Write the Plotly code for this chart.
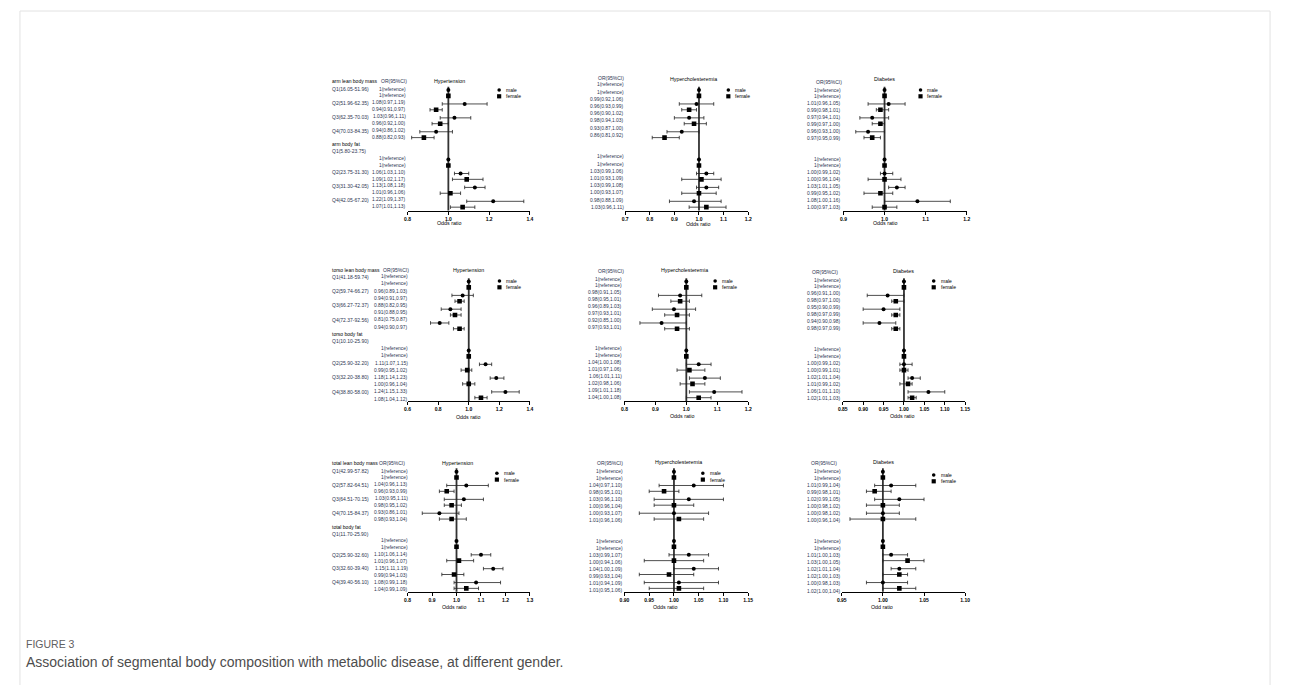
import plotly.graph_objects as go

W, H = 1290, 693          # target picture size
BODY = 8                  # default page margin of the html body
FW, FH = W - 2 * BODY, H - 2 * BODY
N = None

# ---------------- data ----------------
sexes = ["male", "female"]
diseases = ["Hypertension", "Hypercholesteremia", "Diabetes"]
lean_headers = ["arm lean body mass", "torso lean body mass", "total lean body mass"]
fat_headers = ["arm body fat", "torso body fat", "total body fat"]
arm_lean_q = ["Q1(16.05-51.96)", "Q2(51.96-62.35)", "Q3(62.35-70.03)", "Q4(70.03-84.35)"]
arm_fat_q = ["Q1(5.80-23.75)", "Q2(23.75-31.30)", "Q3(31.30-42.05)", "Q4(42.05-67.20)"]
torso_lean_q = ["Q1(41.18-59.74)", "Q2(59.74-66.27)", "Q3(66.27-72.37)", "Q4(72.37-92.56)"]
torso_fat_q = ["Q1(10.10-25.90)", "Q2(25.90-32.20)", "Q3(32.20-38.80)", "Q4(38.80-58.00)"]
total_lean_q = ["Q1(42.99-57.82)", "Q2(57.82-64.51)", "Q3(64.51-70.15)", "Q4(70.15-84.37)"]
total_fat_q = ["Q1(11.70-25.90)", "Q2(25.90-32.60)", "Q3(32.60-39.40)", "Q4(39.40-56.10)"]
x_titles = [["Odds ratio", "Odds ratio", "Odds ratio"],
            ["Odds ratio", "Odds ratio", "Odds ratio"],
            ["Odds ratio", "Odds ratio", "Odd ratio"]]
ref_text = "1(reference)"

# order: lean Q1 m, lean Q1 f, ... lean Q4 f, fat Q1 m, ... fat Q4 f
hyp_arm_or = [1, 1, 1.08, 0.94, 1.03, 0.96, 0.94, 0.88, 1, 1, 1.06, 1.09, 1.13, 1.01, 1.22, 1.07]
hyp_arm_lo = [N, N, 0.97, 0.91, 0.96, 0.92, 0.86, 0.82, N, N, 1.03, 1.02, 1.08, 0.96, 1.09, 1.01]
hyp_arm_hi = [N, N, 1.19, 0.97, 1.11, 1.00, 1.02, 0.93, N, N, 1.10, 1.17, 1.18, 1.06, 1.37, 1.13]

chol_arm_or = [1, 1, 0.99, 0.96, 0.96, 0.98, 0.93, 0.86, 1, 1, 1.03, 1.01, 1.03, 1.00, 0.98, 1.03]
chol_arm_lo = [N, N, 0.92, 0.93, 0.90, 0.94, 0.87, 0.81, N, N, 0.99, 0.93, 0.99, 0.93, 0.88, 0.96]
chol_arm_hi = [N, N, 1.06, 0.99, 1.02, 1.03, 1.00, 0.92, N, N, 1.06, 1.09, 1.08, 1.07, 1.09, 1.11]

diab_arm_or = [1, 1, 1.01, 0.99, 0.97, 0.99, 0.96, 0.97, 1, 1, 1.00, 1.00, 1.03, 0.99, 1.08, 1.00]
diab_arm_lo = [N, N, 0.96, 0.98, 0.94, 0.97, 0.93, 0.95, N, N, 0.99, 0.96, 1.01, 0.95, 1.00, 0.97]
diab_arm_hi = [N, N, 1.05, 1.01, 1.01, 1.00, 1.00, 0.99, N, N, 1.02, 1.04, 1.05, 1.02, 1.16, 1.03]

hyp_torso_or = [1, 1, 0.96, 0.94, 0.88, 0.91, 0.81, 0.94, 1, 1, 1.11, 0.99, 1.18, 1.00, 1.24, 1.08]
hyp_torso_lo = [N, N, 0.89, 0.91, 0.82, 0.88, 0.75, 0.90, N, N, 1.07, 0.95, 1.14, 0.96, 1.15, 1.04]
hyp_torso_hi = [N, N, 1.03, 0.97, 0.95, 0.95, 0.87, 0.97, N, N, 1.15, 1.02, 1.23, 1.04, 1.33, 1.12]

chol_torso_or = [1, 1, 0.98, 0.98, 0.96, 0.97, 0.92, 0.97, 1, 1, 1.04, 1.01, 1.06, 1.02, 1.09, 1.04]
chol_torso_lo = [N, N, 0.91, 0.95, 0.89, 0.93, 0.85, 0.93, N, N, 1.00, 0.97, 1.01, 0.98, 1.01, 1.00]
chol_torso_hi = [N, N, 1.05, 1.01, 1.03, 1.01, 1.00, 1.01, N, N, 1.08, 1.06, 1.11, 1.06, 1.18, 1.08]

diab_torso_or = [1, 1, 0.96, 0.98, 0.95, 0.98, 0.94, 0.98, 1, 1, 1.00, 1.00, 1.02, 1.01, 1.06, 1.02]
diab_torso_lo = [N, N, 0.91, 0.97, 0.90, 0.97, 0.90, 0.97, N, N, 0.99, 0.99, 1.01, 0.99, 1.01, 1.01]
diab_torso_hi = [N, N, 1.00, 1.00, 0.99, 0.99, 0.98, 0.99, N, N, 1.02, 1.01, 1.04, 1.02, 1.10, 1.03]

hyp_total_or = [1, 1, 1.04, 0.96, 1.03, 0.98, 0.93, 0.98, 1, 1, 1.10, 1.01, 1.15, 0.99, 1.08, 1.04]
hyp_total_lo = [N, N, 0.96, 0.93, 0.95, 0.95, 0.86, 0.93, N, N, 1.06, 0.96, 1.11, 0.94, 0.99, 0.99]
hyp_total_hi = [N, N, 1.13, 0.99, 1.11, 1.02, 1.01, 1.04, N, N, 1.14, 1.07, 1.19, 1.03, 1.18, 1.09]

chol_total_or = [1, 1, 1.04, 0.98, 1.03, 1.00, 1.00, 1.01, 1, 1, 1.03, 1.00, 1.04, 0.99, 1.01, 1.01]
chol_total_lo = [N, N, 0.97, 0.95, 0.96, 0.96, 0.93, 0.96, N, N, 0.99, 0.94, 1.00, 0.93, 0.94, 0.95]
chol_total_hi = [N, N, 1.10, 1.01, 1.10, 1.04, 1.07, 1.06, N, N, 1.07, 1.06, 1.09, 1.04, 1.09, 1.06]

diab_total_or = [1, 1, 1.01, 0.99, 1.02, 1.00, 1.00, 1.00, 1, 1, 1.01, 1.03, 1.02, 1.02, 1.00, 1.02]
diab_total_lo = [N, N, 0.99, 0.98, 0.99, 0.98, 0.98, 0.96, N, N, 1.00, 1.00, 1.01, 1.00, 0.98, 1.00]
diab_total_hi = [N, N, 1.04, 1.01, 1.05, 1.02, 1.02, 1.04, N, N, 1.03, 1.05, 1.04, 1.03, 1.03, 1.04]

panel_data = [
    [(hyp_arm_or, hyp_arm_lo, hyp_arm_hi), (chol_arm_or, chol_arm_lo, chol_arm_hi), (diab_arm_or, diab_arm_lo, diab_arm_hi)],
    [(hyp_torso_or, hyp_torso_lo, hyp_torso_hi), (chol_torso_or, chol_torso_lo, chol_torso_hi), (diab_torso_or, diab_torso_lo, diab_torso_hi)],
    [(hyp_total_or, hyp_total_lo, hyp_total_hi), (chol_total_or, chol_total_lo, chol_total_hi), (diab_total_or, diab_total_lo, diab_total_hi)],
]
row_q_labels = [(arm_lean_q, arm_fat_q), (torso_lean_q, torso_fat_q), (total_lean_q, total_fat_q)]

# ---------------- layout / style (pixels in the target picture) ----------------
FONT = "Liberation Sans, Arial, sans-serif"
NARROW = "Liberation Sans Narrow, Arial Narrow, Liberation Sans, sans-serif"
LABEL_COLOR = "#2c3550"

pair_pos = [0, 1, 2, 3, 5, 6, 7, 8]
sex_offset = [-0.21, 0.21]
y_range = [8.45, -0.45]

plot_x = [[(405.7, 529), (625, 749), (845, 969.3)],
          [(405.7, 529), (624.3, 749), (844.3, 967.7)],
          [(405.7, 529), (624.3, 749), (843.3, 967.7)]]
plot_y = [(86.7, 210.5), (278.3, 401), (468.3, 591.7)]
x_ranges = [[(0.8, 1.4), (0.7, 1.2), (0.9, 1.2)],
            [(0.6, 1.4), (0.8, 1.2), (0.85, 1.15)],
            [(0.8, 1.3), (0.9, 1.15), (0.95, 1.10)]]
x_steps = [[0.2, 0.1, 0.1], [0.2, 0.1, 0.05], [0.1, 0.05, 0.05]]
x_dec = [[1, 1, 1], [1, 1, 2], [1, 2, 2]]
title_pos = [[(448, 80.7), (694.3, 79.3), (886.7, 79)],
             [(467.3, 269.5), (685, 270.5), (905.7, 271)],
             [(456, 462.7), (678.3, 461.5), (885, 462.3)]]
xt_pos = [[(447.7, 223.3), (698, 224.3), (886.7, 222.7)],
          [(466.7, 416.5), (682.7, 415.7), (904, 415.7)],
          [(452.7, 606.7), (665, 607.3), (884, 606.7)]]
legend_pos = [[(498, 90), (729, 90), (922.7, 90)],
              [(498.3, 281), (715.7, 281), (936, 281)],
              [(495.7, 473.3), (703.3, 473.3), (936, 475)]]
or_head_pos = [[(391.7, 80.7), (611, 78), (830, 81.7)],
               [(394, 270), (611, 271), (826.7, 272.3)],
               [(390, 463.3), (610, 463.3), (825.7, 463.3)]]
or_right = [[405, 625, 844], [407, 623, 844], [406.7, 624.3, 843.3]]
or_span = [[(89, 206.7), (85, 207.3), (90, 207.3)],
           [(276.7, 399), (279, 397.7), (280, 398.3)],
           [(471, 589.3), (471, 590), (471, 591)]]
label_left = 329


def PX(px):
    return (px - BODY) / FW


def PY(py):
    return 1 - (py - BODY) / FH


fig = go.Figure()
axes = {}
annotations = []
shapes = []


def add_text(text, x, y, size=5, family=FONT, color="black", xanchor="center", weight="normal"):
    annotations.append(dict(text=text, x=PX(x), y=PY(y), xref="paper", yref="paper",
                            xanchor=xanchor, yanchor="middle", showarrow=False,
                            font=dict(size=size, family=family, color=color, weight=weight),
                            borderpad=0))


for r in range(3):
    for c in range(3):
        n = r * 3 + c + 1
        sfx = "" if n == 1 else str(n)
        ORv, LOv, HIv = panel_data[r][c]
        ys = [pair_pos[(i // 8) * 4 + (i % 8) // 2] + sex_offset[i % 2] for i in range(16)]
        for s, sym, size in [(0, "circle", 4), (1, "square", 4.6)]:
            idx = [i for i in range(16) if i % 2 == s]
            plus = [None if HIv[i] is None else round(HIv[i] - ORv[i], 4) for i in idx]
            minus = [None if LOv[i] is None else round(ORv[i] - LOv[i], 4) for i in idx]
            fig.add_trace(go.Scatter(
                x=[ORv[i] for i in idx], y=[ys[i] for i in idx], mode="markers",
                name=sexes[s], showlegend=False,
                marker=dict(symbol=sym, size=size, color="black", line=dict(width=0)),
                error_x=dict(type="data", symmetric=False, array=plus, arrayminus=minus,
                             color="#222222", thickness=0.8, width=1.8),
                xaxis="x" + sfx, yaxis="y" + sfx, hoverinfo="skip"))

        x0, x1 = plot_x[r][c]
        y0, y1 = plot_y[r]
        xmin, xmax = x_ranges[r][c]
        step = x_steps[r][c]
        nt = int(round((xmax - xmin) / step)) + 1
        tv = [round(xmin + k * step, 4) for k in range(nt)]
        tt = [f"{v:.{x_dec[r][c]}f}" for v in tv]
        axes["xaxis" + sfx] = dict(
            domain=[PX(x0), PX(x1)], range=[xmin, xmax], anchor="y" + sfx,
            showline=True, linecolor="black", linewidth=1.2, ticks="outside",
            ticklen=3, tickwidth=1, tickcolor="black", tickvals=tv, ticktext=tt,
            tickfont=dict(size=5, family=FONT, color="black", weight="bold"),
            showgrid=False, zeroline=False, fixedrange=True)
        axes["yaxis" + sfx] = dict(domain=[PY(y1), PY(y0)], range=y_range,
                                   anchor="x" + sfx, visible=False, fixedrange=True)
        # reference line at OR = 1
        shapes.append(dict(type="line", xref="x" + sfx, yref="y" + sfx + " domain",
                           x0=1, x1=1, y0=0, y1=1, layer="below",
                           line=dict(color="#333333", width=1.8)))
        # titles
        tx, ty = title_pos[r][c]
        add_text(diseases[c], tx, ty, size=5.3)
        xx, xy = xt_pos[r][c]
        add_text(x_titles[r][c], xx, xy, size=5.3)
        # legend
        lx, ly = legend_pos[r][c]
        shapes.append(dict(type="circle", xref="paper", yref="paper",
                           x0=PX(lx - 1.8), x1=PX(lx + 1.8), y0=PY(ly + 1.8), y1=PY(ly - 1.8),
                           fillcolor="black", line=dict(width=0)))
        shapes.append(dict(type="rect", xref="paper", yref="paper",
                           x0=PX(lx - 2.1), x1=PX(lx + 2.1), y0=PY(ly + 6.3 + 2.1), y1=PY(ly + 6.3 - 2.1),
                           fillcolor="black", line=dict(width=0)))
        add_text(sexes[0], lx + 6, ly, size=5, xanchor="left")
        add_text(sexes[1], lx + 6, ly + 6.3, size=5, xanchor="left")
        # OR column
        hx, hy = or_head_pos[r][c]
        add_text("OR(95%CI)", hx, hy, size=5, family=NARROW, color=LABEL_COLOR)
        t0, t1 = or_span[r][c]
        for i in range(16):
            k = (i // 8) * 10 + (i % 8)
            yy = t0 + k * (t1 - t0) / 17
            txt = ref_text if LOv[i] is None else f"{ORv[i]:.2f}({LOv[i]:.2f},{HIv[i]:.2f})"
            add_text(txt, or_right[r][c], yy, size=4.9, family=NARROW, color=LABEL_COLOR, xanchor="right")

    # left label column
    t0, t1 = or_span[r][0]
    rowy = lambda k: t0 + k * (t1 - t0) / 17
    lean_q, fat_q = row_q_labels[r]
    add_text(lean_headers[r], label_left, or_head_pos[r][0][1], size=5, xanchor="left")
    for q in range(4):
        add_text(lean_q[q], label_left, rowy(2 * q), size=5, color=LABEL_COLOR, xanchor="left")
    add_text(fat_headers[r], label_left, rowy(8), size=5, xanchor="left")
    add_text(fat_q[0], label_left, rowy(9), size=5, color=LABEL_COLOR, xanchor="left")
    for q in range(1, 4):
        add_text(fat_q[q], label_left, rowy(10 + 2 * q), size=5, color=LABEL_COLOR, xanchor="left")

# figure caption
add_text("FIGURE 3", 20, 644, size=10.5, color="#5f6062", xanchor="left")
add_text("Association of segmental body composition with metabolic disease, at different gender.",
         20, 662, size=14, color="#4d4d4d", xanchor="left")

shapes.append(dict(type="rect", xref="paper", yref="paper", x0=PX(15), x1=PX(1275),
                   y0=PY(705), y1=PY(11), line=dict(color="#e2e2e2", width=1), layer="below"))

fig.update_layout(width=FW, height=FH, margin=dict(l=0, r=0, t=0, b=0),
                  paper_bgcolor="white", plot_bgcolor="rgba(0,0,0,0)",
                  showlegend=False, annotations=annotations, shapes=shapes, **axes)
fig.write_html("out.html", config={"displayModeBar": False})
